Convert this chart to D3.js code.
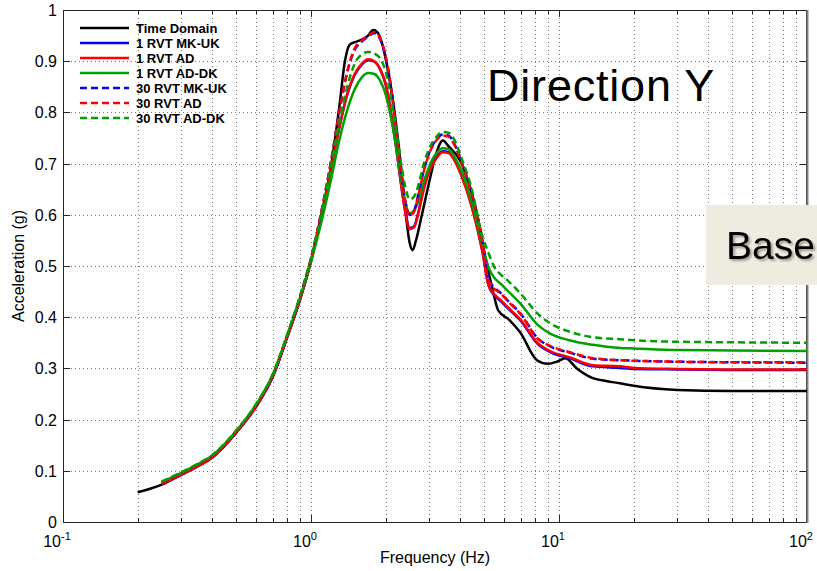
<!DOCTYPE html>
<html>
<head>
<meta charset="utf-8">
<script src="https://cdn.jsdelivr.net/npm/d3@7"></script>
<style>
  body { margin: 0; background: #fff; }
  svg { display: block; }
  text { font-family: "Liberation Sans", Arial, sans-serif; }
</style>
</head>
<body>
<svg width="817" height="571"></svg>
<script>
// time domain curve has its own frequency points
const tdFreq = [0.2,0.25,0.3,0.35,0.4, 0.5,0.6,0.7,0.8,0.9, 1.0,1.1,1.2,1.3,1.37, 1.43,1.5,1.6,1.7,1.78,
  1.85,1.92,2.0,2.1,2.2, 2.3,2.4,2.5,2.57,2.65, 2.8,3.0,3.2,3.4,3.6, 4.0,4.4,4.7,5.0,5.37,
  5.68,6.3,6.96,8.15,9.0, 9.8,10.6,11.8,13.7,15.6, 17.6,20,30,50,100];
const tdAcc = [0.058,0.073,0.093,0.11,0.127, 0.175,0.225,0.283,0.36,0.432, 0.51,0.60,0.69,0.81,0.90,
  0.932,0.937,0.942,0.95,0.961, 0.957,0.94,0.905,0.85,0.78, 0.70,0.61,0.545,0.531,0.55,
  0.60,0.665,0.72,0.745,0.733, 0.705,0.65,0.595,0.525,0.459, 0.414,0.395,0.371,0.316,0.309,
  0.313,0.32,0.30,0.281,0.275, 0.271,0.266,0.258,0.256,0.256];

// RVT curves share one frequency grid
const rvtFreq = [0.25,0.3,0.35,0.4,0.5, 0.6,0.7,0.8,0.9,1.0, 1.1,1.2,1.3,1.4,1.5, 1.6,1.7,1.8,1.9,2.0,
  2.1,2.2,2.3,2.4,2.5, 2.6,2.7,2.85,3.0,3.2, 3.4,3.6,3.8,4.05,4.45, 4.9,5.2,5.5,5.8,6.2,
  7.0,8.2,9.3,11,13.7, 17.6,20,30,50,100];

const rvt1MKUK = [0.074,0.092,0.109,0.126,0.175, 0.225,0.283,0.36,0.433,0.51, 0.595,0.685,0.77,0.835,0.873,
  0.893,0.902,0.899,0.884,0.855, 0.80,0.735,0.665,0.607,0.574, 0.577,0.602,0.652,0.687,0.712,
  0.724,0.722,0.707,0.677,0.617, 0.532,0.462,0.442,0.432,0.418, 0.393,0.348,0.331,0.320,0.304,
  0.301,0.299,0.298,0.297,0.297];
const rvt1AD = [0.074,0.092,0.109,0.126,0.175, 0.225,0.283,0.36,0.433,0.51, 0.595,0.685,0.77,0.835,0.875,
  0.895,0.904,0.90,0.885,0.855, 0.80,0.735,0.665,0.605,0.572, 0.575,0.60,0.65,0.685,0.71,
  0.722,0.72,0.705,0.675,0.615, 0.53,0.462,0.444,0.434,0.42, 0.395,0.35,0.333,0.322,0.306,
  0.304,0.301,0.299,0.298,0.298];
const rvt1ADDK = [0.078,0.096,0.113,0.130,0.178, 0.229,0.287,0.363,0.436,0.508, 0.585,0.665,0.745,0.805,0.845,
  0.868,0.877,0.875,0.862,0.835, 0.79,0.735,0.675,0.625,0.603, 0.608,0.625,0.665,0.695,0.72,
  0.73,0.728,0.712,0.685,0.625, 0.545,0.497,0.476,0.466,0.452, 0.426,0.385,0.367,0.355,0.346,
  0.340,0.339,0.336,0.335,0.334];
const rvt30MKUK = [0.076,0.094,0.111,0.128,0.176, 0.227,0.285,0.362,0.436,0.515, 0.605,0.70,0.80,0.878,0.922,
  0.938,0.948,0.955,0.943,0.908, 0.85,0.77,0.69,0.627,0.600, 0.607,0.637,0.687,0.722,0.747,
  0.757,0.754,0.737,0.702,0.642, 0.552,0.474,0.457,0.448,0.433, 0.407,0.359,0.342,0.331,0.319,
  0.316,0.315,0.313,0.312,0.311];
const rvt30AD = [0.076,0.094,0.111,0.128,0.176, 0.227,0.285,0.362,0.436,0.515, 0.605,0.70,0.80,0.88,0.925,
  0.94,0.95,0.957,0.945,0.91, 0.85,0.77,0.69,0.625,0.598, 0.605,0.635,0.685,0.72,0.745,
  0.755,0.752,0.735,0.70,0.64, 0.55,0.472,0.455,0.447,0.432, 0.406,0.358,0.343,0.332,0.320,
  0.316,0.315,0.313,0.312,0.312];
const rvt30ADDK = [0.079,0.097,0.114,0.131,0.179, 0.23,0.288,0.365,0.44,0.515, 0.60,0.69,0.78,0.85,0.895,
  0.913,0.918,0.915,0.905,0.88, 0.83,0.77,0.705,0.655,0.63, 0.635,0.655,0.70,0.73,0.752,
  0.762,0.76,0.745,0.71,0.65, 0.56,0.525,0.497,0.484,0.472, 0.446,0.407,0.387,0.372,0.361,
  0.357,0.355,0.352,0.351,0.350];

const legendNames = ["Time Domain","1 RVT MK-UK","1 RVT AD","1 RVT AD-DK","30 RVT MK-UK","30 RVT AD","30 RVT AD-DK"];
const yTicks = [0,0.1,0.2,0.3,0.4,0.5,0.6,0.7,0.8,0.9,1];
const xMajor = [0.1,1,10,100];
const xExp = ["-1","0","1","2"];

const series = [
  {name: legendNames[0], f: tdFreq,  v: tdAcc,     color: "#000000", dash: null},
  {name: legendNames[1], f: rvtFreq, v: rvt1MKUK,  color: "#0000ff", dash: null},
  {name: legendNames[2], f: rvtFreq, v: rvt1AD,    color: "#ff0000", dash: null},
  {name: legendNames[3], f: rvtFreq, v: rvt1ADDK,  color: "#00a000", dash: null},
  {name: legendNames[4], f: rvtFreq, v: rvt30MKUK, color: "#0000ff", dash: "7,4"},
  {name: legendNames[5], f: rvtFreq, v: rvt30AD,   color: "#ff0000", dash: "7,4"},
  {name: legendNames[6], f: rvtFreq, v: rvt30ADDK, color: "#00a000", dash: "7,4"}
];

const svg = d3.select("svg");
const L = 63, R = 807, T = 10, B = 522;

const x = d3.scaleLog().domain([0.1, 100]).range([L, R]);
const y = d3.scaleLinear().domain([0, 1]).range([B, T]);

// minor positions for the log axis
const xMinor = [];
for (const dec of [0.1, 1, 10]) {
  for (let k = 2; k <= 9; k++) xMinor.push(dec * k);
}

// title sits above the window, only descenders peek in
svg.append("text")
  .attr("x", 335).attr("y", -3)
  .attr("font-size", 12)
  .text("Surface Motion (Time Domain vs RVT 5% damp)");

// grid
const grid = svg.append("g").attr("stroke", "#7a7a7a").attr("stroke-dasharray", "1,3").attr("stroke-width", 1);
grid.selectAll("line.v")
  .data(xMinor.concat(xMajor.slice(1, 3)))
  .enter().append("line")
  .attr("x1", d => Math.round(x(d)) + 0.5).attr("x2", d => Math.round(x(d)) + 0.5)
  .attr("y1", T).attr("y2", B);
grid.selectAll("line.h")
  .data(yTicks.slice(1, -1))
  .enter().append("line")
  .attr("y1", d => Math.round(y(d)) + 0.5).attr("y2", d => Math.round(y(d)) + 0.5)
  .attr("x1", L).attr("x2", R);

// ticks on all four sides, pointing in
const tk = svg.append("g").attr("stroke", "#262626").attr("stroke-width", 1);
for (const d of xMajor) {
  const px = Math.round(x(d)) + 0.5;
  tk.append("line").attr("x1", px).attr("x2", px).attr("y1", B).attr("y2", B - 7);
  tk.append("line").attr("x1", px).attr("x2", px).attr("y1", T).attr("y2", T + 7);
}
for (const d of xMinor) {
  const px = Math.round(x(d)) + 0.5;
  tk.append("line").attr("x1", px).attr("x2", px).attr("y1", B).attr("y2", B - 4);
  tk.append("line").attr("x1", px).attr("x2", px).attr("y1", T).attr("y2", T + 4);
}
for (const d of yTicks) {
  const py = Math.round(y(d)) + 0.5;
  tk.append("line").attr("y1", py).attr("y2", py).attr("x1", L).attr("x2", L + 7);
  tk.append("line").attr("y1", py).attr("y2", py).attr("x1", R).attr("x2", R - 7);
}

// frame
svg.append("rect")
  .attr("x", L + 0.5).attr("y", T + 0.5)
  .attr("width", R - L - 1).attr("height", B - T)
  .attr("fill", "none").attr("stroke", "#262626");
svg.append("line")
  .attr("x1", R + 0.5).attr("x2", R + 0.5).attr("y1", T).attr("y2", B + 1)
  .attr("stroke", "#808080").attr("stroke-width", 2);

// y tick labels
svg.append("g").selectAll("text")
  .data(yTicks)
  .enter().append("text")
  .attr("x", 57).attr("y", d => y(d) + 6)
  .attr("text-anchor", "end")
  .attr("font-size", 16)
  .text(d => d3.format("~g")(d));

// x tick labels 10^n
const xl = svg.append("g").selectAll("text")
  .data(xMajor)
  .enter().append("text")
  .attr("x", d => x(d) - 6).attr("y", 547)
  .attr("text-anchor", "middle")
  .attr("font-size", 16);
xl.append("tspan").text("10");
xl.append("tspan").attr("dy", -7).attr("font-size", 11).text((d, i) => xExp[i]);

// axis titles
svg.append("text")
  .attr("x", (L + R) / 2).attr("y", 563)
  .attr("text-anchor", "middle").attr("font-size", 16)
  .text("Frequency (Hz)");
svg.append("text")
  .attr("transform", "translate(24," + ((T + B) / 2) + ") rotate(-90)")
  .attr("text-anchor", "middle").attr("font-size", 16)
  .text("Acceleration (g)");

// curves
svg.append("clipPath").attr("id", "plot")
  .append("rect").attr("x", L).attr("y", T).attr("width", R - L).attr("height", B - T);

const line = d3.line()
  .x(d => x(d[0]))
  .y(d => y(d[1]))
  .curve(d3.curveMonotoneX);

svg.append("g").attr("clip-path", "url(#plot)")
  .selectAll("path")
  .data(series)
  .enter().append("path")
  .attr("d", s => line(s.f.map((f, i) => [f, s.v[i]])))
  .attr("fill", "none")
  .attr("stroke", s => s.color)
  .attr("stroke-width", 2.5)
  .attr("stroke-linejoin", "round")
  .attr("stroke-dasharray", s => s.dash);

// legend
const lg = svg.append("g").selectAll("g")
  .data(series)
  .enter().append("g")
  .attr("transform", (s, i) => "translate(0," + (28 + i * 15) + ")");
lg.append("line")
  .attr("x1", 80).attr("x2", 129)
  .attr("stroke", s => s.color)
  .attr("stroke-width", 2.5)
  .attr("stroke-dasharray", s => s.dash);
lg.append("text")
  .attr("x", 136).attr("y", 5)
  .attr("font-size", 13).attr("font-weight", "bold")
  .text(s => s.name);

// slide annotations
const defs = svg.append("defs");
defs.append("filter").attr("id", "shadow")
  .append("feDropShadow")
  .attr("dx", 2).attr("dy", 2).attr("stdDeviation", 1)
  .attr("flood-color", "#000").attr("flood-opacity", 0.35);

svg.append("text")
  .attr("x", 487).attr("y", 101)
  .attr("font-family", "Open Sans")
  .attr("font-size", 45)
  .attr("letter-spacing", 0.8)
  .text("Direction Y");

svg.append("rect")
  .attr("x", 706).attr("y", 205).attr("width", 120).attr("height", 80)
  .attr("fill", "#eeece1");
svg.append("text")
  .attr("x", 726).attr("y", 259)
  .attr("font-family", "Open Sans")
  .attr("font-size", 39)
  .attr("filter", "url(#shadow)")
  .text("Base");
</script>
</body>
</html>
